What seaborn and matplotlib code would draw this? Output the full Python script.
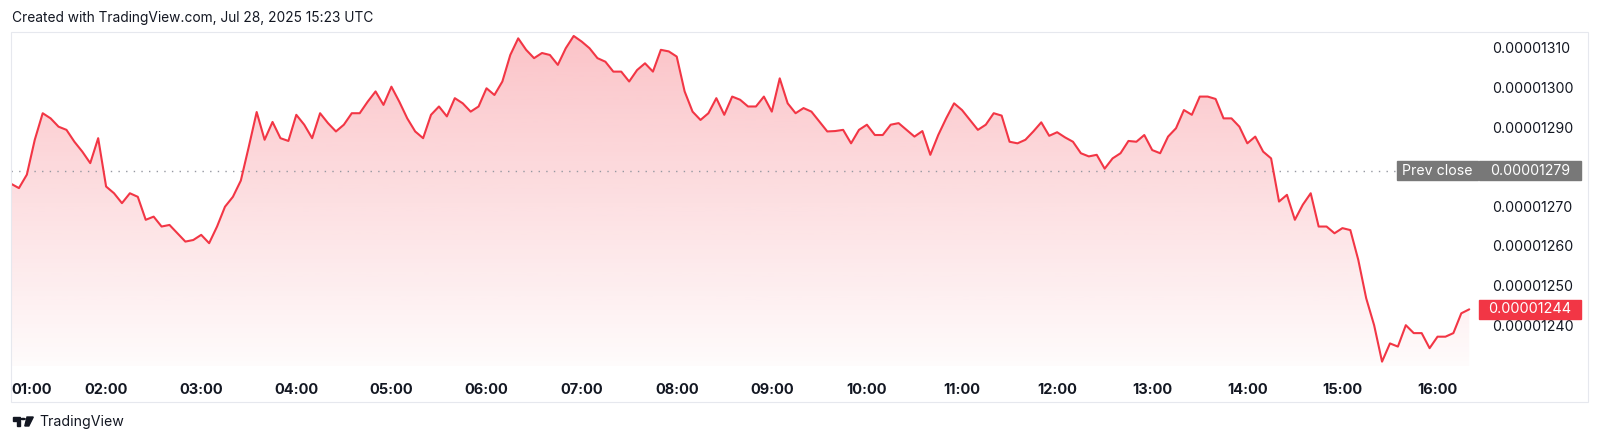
import numpy as np
import pandas as pd
import matplotlib
matplotlib.use("Agg")
import matplotlib.pyplot as plt
import matplotlib.dates as mdates
from matplotlib.patches import Rectangle, Polygon, Circle
from matplotlib.transforms import blended_transform_factory
import seaborn as sns

# close prices, 5 minute steps from 01:00, in units of 1e-8
price_e8 = [
    1275.7, 1274.6, 1278.0, 1286.8, 1293.5, 1292.2, 1290.1, 1289.3, 1286.3, 1283.8,
    1280.9, 1287.2, 1275.0, 1273.3, 1270.8, 1273.3, 1272.4, 1266.6, 1267.4, 1264.9,
    1265.3, 1263.2, 1261.1, 1261.5, 1262.8, 1260.7, 1264.9, 1269.9, 1272.4, 1276.5,
    1285.0, 1293.8, 1286.8, 1291.3, 1287.2, 1286.5, 1293.1, 1290.6, 1287.2, 1293.5,
    1291.0, 1288.9, 1290.6, 1293.5, 1293.5, 1296.4, 1299.0, 1295.6, 1300.2, 1296.4,
    1292.2, 1288.9, 1287.2, 1293.1, 1295.2, 1292.7, 1297.3, 1296.0, 1293.9, 1295.2,
    1299.8, 1298.1, 1301.5, 1308.2, 1312.4, 1309.5, 1307.4, 1308.7, 1308.2, 1305.7,
    1309.9, 1313.0, 1311.6, 1309.9, 1307.4, 1306.5, 1304.0, 1304.0, 1301.5, 1304.4,
    1306.1, 1304.0, 1309.5, 1309.1, 1307.8, 1299.0, 1293.9, 1291.8, 1293.5, 1297.3,
    1293.1, 1297.7, 1296.9, 1295.2, 1295.2, 1297.7, 1293.9, 1302.3, 1296.0, 1293.5,
    1294.8, 1293.9, 1291.4, 1288.9, 1289.0, 1289.3, 1285.9, 1289.3, 1290.6, 1288.0,
    1288.0, 1290.6, 1291.0, 1289.3, 1287.6, 1289.0, 1283.0, 1288.0, 1292.2, 1296.0,
    1294.3, 1291.8, 1289.3, 1290.6, 1293.5, 1292.9, 1286.3, 1285.9, 1286.8, 1288.9,
    1291.2, 1287.8, 1288.7, 1287.4, 1286.3, 1283.4, 1282.6, 1283.0, 1279.5, 1282.1,
    1283.4, 1286.5, 1286.3, 1288.0, 1284.2, 1283.4, 1287.6, 1289.7, 1294.3, 1293.1,
    1297.7, 1297.7, 1297.1, 1292.2, 1292.2, 1290.1, 1285.9, 1287.6, 1283.8, 1282.1,
    1271.2, 1272.9, 1266.6, 1270.4, 1273.3, 1264.9, 1264.9, 1263.2, 1264.5, 1264.0,
    1256.5, 1246.8, 1240.0, 1230.8, 1235.4, 1234.6, 1240.0, 1238.0, 1238.0, 1234.2,
    1237.1, 1237.1, 1238.0, 1243.0, 1244.0,
]
start_time = "2025-07-28 01:00"
time_labels = ["01:00", "02:00", "03:00", "04:00", "05:00", "06:00", "07:00", "08:00",
               "09:00", "10:00", "11:00", "12:00", "13:00", "14:00", "15:00", "16:00"]
y_ticks_e8 = [1240, 1250, 1260, 1270, 1290, 1300, 1310]
prev_close_e8 = 1279
last_e8 = 1244

RED = "#F23645"
INK = "#131722"
GREY_BOX = "#787878"

W, H = 1600, 443
def fx(px):
    return px / W
def fy(py):
    return 1 - py / H

sns.set_style("white")
plt.rcParams["font.family"] = ["Inter", "DejaVu Sans"]

df = pd.DataFrame({
    "time": pd.date_range(start_time, periods=len(price_e8), freq="5min"),
    "price": np.array(price_e8) * 1e-8,
})

fig = plt.figure(figsize=(16, 4.43), dpi=100)
ax = fig.add_axes([fx(11), fy(366), fx(1480) - fx(11), fy(32) - fy(366)])

t0 = pd.Timestamp(start_time)
xlim = (t0, t0 + pd.Timedelta(minutes=926.8))
ylim = (1229.7e-8, 1314.0e-8)

# gradient area under the line
fill = ax.fill_between(df["time"], df["price"], ylim[0], color="none", lw=0)
rgba = np.zeros((256, 1, 4))
rgba[..., 0], rgba[..., 1], rgba[..., 2] = 242 / 255, 54 / 255, 69 / 255
rgba[..., 3] = np.linspace(0.30, 0.02, 256)[:, None]
img = ax.imshow(rgba, aspect="auto", origin="upper", zorder=1,
                extent=[mdates.date2num(xlim[0]), mdates.date2num(xlim[1]), ylim[0], ylim[1]])
img.set_clip_path(fill.get_paths()[0], transform=ax.transData)

sns.lineplot(data=df, x="time", y="price", color=RED, lw=1.5, ax=ax, zorder=3)

ax.set_xlim(*xlim)
ax.set_ylim(*ylim)
for s in ax.spines.values():
    s.set_visible(False)
ax.set_xlabel("")
ax.set_ylabel("")

# prev close dotted line
ax.axhline(prev_close_e8 * 1e-8, xmax=(1395 - 11) / (1480 - 11), color="#9598A1",
           lw=1.0, ls=(0, (1, 4.5)), zorder=2)

# time axis
ticks = [pd.Timestamp(f"2025-07-28 {lab}") for lab in time_labels]
ax.set_xticks(ticks)
ax.set_xticklabels(time_labels, fontsize=10.5, fontweight="bold", color=INK)
ax.get_xticklabels()[0].set_horizontalalignment("left")
ax.tick_params(axis="x", length=0, pad=12)

# price axis
ax.yaxis.tick_right()
ax.set_yticks([v * 1e-8 for v in y_ticks_e8])
ax.set_yticklabels([f"{v * 1e-8:.8f}" for v in y_ticks_e8], fontsize=10.2, color=INK)
ax.tick_params(axis="y", length=0, pad=9)

# badges on the price scale
bt = blended_transform_factory(fig.transFigure, ax.transData)
box_h = 19 / 3.96 * 1e-8
for x0, x1, val, col in [(1397, 1478, prev_close_e8, GREY_BOX),
                         (1479, 1581, prev_close_e8, GREY_BOX),
                         (1479, 1581, last_e8, RED)]:
    ax.add_patch(Rectangle((fx(x0), val * 1e-8 - box_h / 2), fx(x1) - fx(x0), box_h,
                           transform=bt, color=col, clip_on=False, zorder=5))
ax.text(fx(1437.5), prev_close_e8 * 1e-8, "Prev close", transform=bt, ha="center",
        va="center", fontsize=10.2, color="white", zorder=6, clip_on=False)
ax.text(fx(1530), prev_close_e8 * 1e-8, f"{prev_close_e8 * 1e-8:.8f}", transform=bt,
        ha="center", va="center", fontsize=10.2, color="white", zorder=6, clip_on=False)
ax.text(fx(1530), last_e8 * 1e-8, f"{last_e8 * 1e-8:.8f}", transform=bt,
        ha="center", va="center", fontsize=10.4, color="white", zorder=6, clip_on=False)

# frame around the chart
fig.add_artist(Rectangle((fx(11), fy(402)), fx(1588) - fx(11), fy(32) - fy(402),
                         transform=fig.transFigure, fill=False, ec="#E6E8EE", lw=0.8))

# header and footer
fig.text(fx(12), fy(18), "Created with TradingView.com, Jul 28, 2025 15:23 UTC",
         ha="left", va="center", fontsize=9.9, color=INK)
fig.add_artist(Polygon([(fx(12.7), fy(417)), (fx(20.3), fy(417)), (fx(20.3), fy(426)),
                        (fx(16.6), fy(426)), (fx(16.6), fy(420.5)), (fx(12.7), fy(420.5))],
                       closed=True, transform=fig.transFigure, color=INK))
fig.add_artist(Circle((fx(23.2), fy(419)), 2.0 / W, transform=fig.transFigure, color=INK))
fig.add_artist(Polygon([(fx(27.0), fy(417)), (fx(33.3), fy(417)), (fx(28.8), fy(426)),
                        (fx(24.8), fy(426))], closed=True, transform=fig.transFigure, color=INK))
fig.text(fx(39), fy(422), "TradingView", ha="left", va="center", fontsize=10.2, color=INK)

fig.savefig("out.png", dpi=100, facecolor="white")
